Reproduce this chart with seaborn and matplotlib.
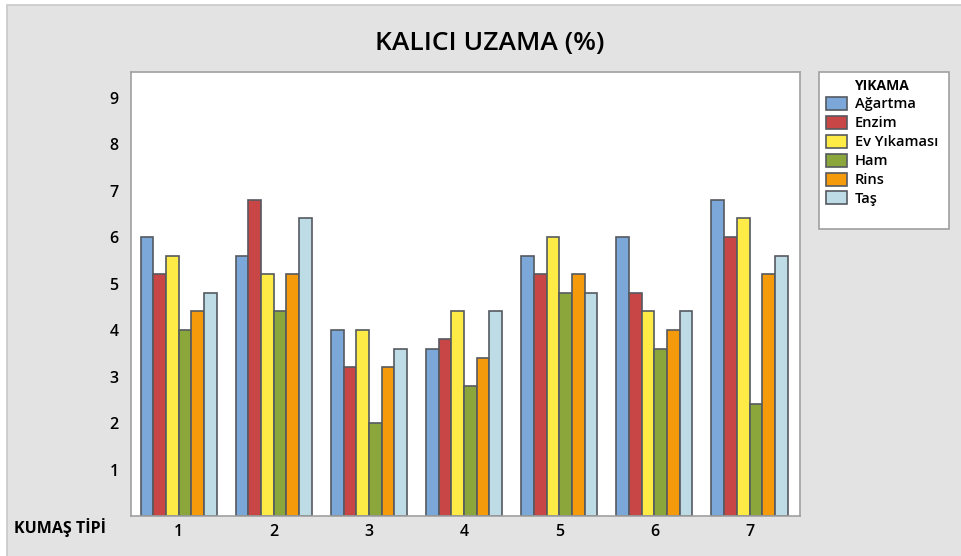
import pandas as pd
import matplotlib.pyplot as plt
import seaborn as sns
from matplotlib.patches import Rectangle

# data
kumas_tipi = ['1', '2', '3', '4', '5', '6', '7']
yikama = ['Ağartma', 'Enzim', 'Ev Yıkaması', 'Ham', 'Rins', 'Taş']
agartma = [6.0, 5.6, 4.0, 3.6, 5.6, 6.0, 6.8]
enzim = [5.2, 6.8, 3.2, 3.8, 5.2, 4.8, 6.0]
ev_yikamasi = [5.6, 5.2, 4.0, 4.4, 6.0, 4.4, 6.4]
ham = [4.0, 4.4, 2.0, 2.8, 4.8, 3.6, 2.4]
rins = [4.4, 5.2, 3.2, 3.4, 5.2, 4.0, 5.2]
tas = [4.8, 6.4, 3.6, 4.4, 4.8, 4.4, 5.6]

colors = ['#7BA7D9', '#C84646', '#FFEB46', '#8BA63A', '#F59A0A', '#BEDCE6']

rows = []
for name, vals in zip(yikama, [agartma, enzim, ev_yikamasi, ham, rins, tas]):
    for k, v in zip(kumas_tipi, vals):
        rows.append({'KUMAŞ TİPİ': k, 'YIKAMA': name, 'UZAMA': v})
df = pd.DataFrame(rows)

sns.set_style('white')
plt.rcParams['font.family'] = ['Open Sans', 'DejaVu Sans']
plt.rcParams['text.color'] = 'black'
plt.rcParams['xtick.color'] = 'black'
plt.rcParams['ytick.color'] = 'black'

fig = plt.figure(figsize=(9.62, 5.56), dpi=100, facecolor='white')
# grey page with a light frame, like the original export
fig.patches.append(Rectangle((7 / 962, -0.01), 1, 1.01 - 5 / 556, transform=fig.transFigure,
                             facecolor='#e3e3e3', edgecolor='#c8c8c8', linewidth=1.2,
                             zorder=-10))
# legend box (taller than the entries)
fig.patches.append(Rectangle((819 / 962, 1 - 229 / 556), 130 / 962, 157 / 556,
                             transform=fig.transFigure, facecolor='white',
                             edgecolor='#a0a0a0', linewidth=1.2, zorder=-5))
ax = fig.add_axes([131 / 962, 1 - 516 / 556, 669 / 962, 444 / 556])

sns.barplot(data=df, x='KUMAŞ TİPİ', y='UZAMA', hue='YIKAMA', hue_order=yikama,
            order=kumas_tipi, palette=colors, edgecolor='#555a60', linewidth=1.2,
            saturation=1, width=0.8, ax=ax)

ax.set_facecolor('white')
ax.set_ylim(0, 9.55)
ax.set_xlim(-0.5, 6.53)
ax.set_yticks(range(1, 10))
ax.set_xlabel('')
ax.set_ylabel('')
for s in ax.spines.values():
    s.set_color('#a0a0a0')
    s.set_linewidth(1.2)
ax.tick_params(axis='both', direction='out', length=4, width=1, color='#a0a0a0',
               labelcolor='black', labelsize=11.5)
ax.tick_params(axis='x', pad=1.5)
ax.tick_params(axis='y', pad=5)
for lab in ax.get_xticklabels() + ax.get_yticklabels():
    lab.set_fontweight('semibold')

fig.text(0.509, 1 - 43 / 556, 'KALICI UZAMA (%)', ha='center', va='center',
         fontsize=19, fontweight='semibold')
fig.text(14 / 962, 1 - 528 / 556, 'KUMAŞ TİPİ', ha='left', va='center',
         fontsize=11.5, fontweight='bold')

handles, labels = ax.get_legend_handles_labels()
ax.legend_.remove()
leg = fig.legend(handles, labels, title='YIKAMA', loc='upper left',
                 bbox_to_anchor=(819 / 962, 1 - 72 / 556), frameon=False,
                 prop={'size': 10.5, 'weight': 'semibold'},
                 title_fontproperties={'size': 10, 'weight': 'bold'},
                 handlelength=1.45, handleheight=1.0, handletextpad=0.55,
                 labelspacing=0.3, borderpad=0.45, borderaxespad=0)

fig.savefig('out.png', dpi=100, facecolor=fig.get_facecolor())
